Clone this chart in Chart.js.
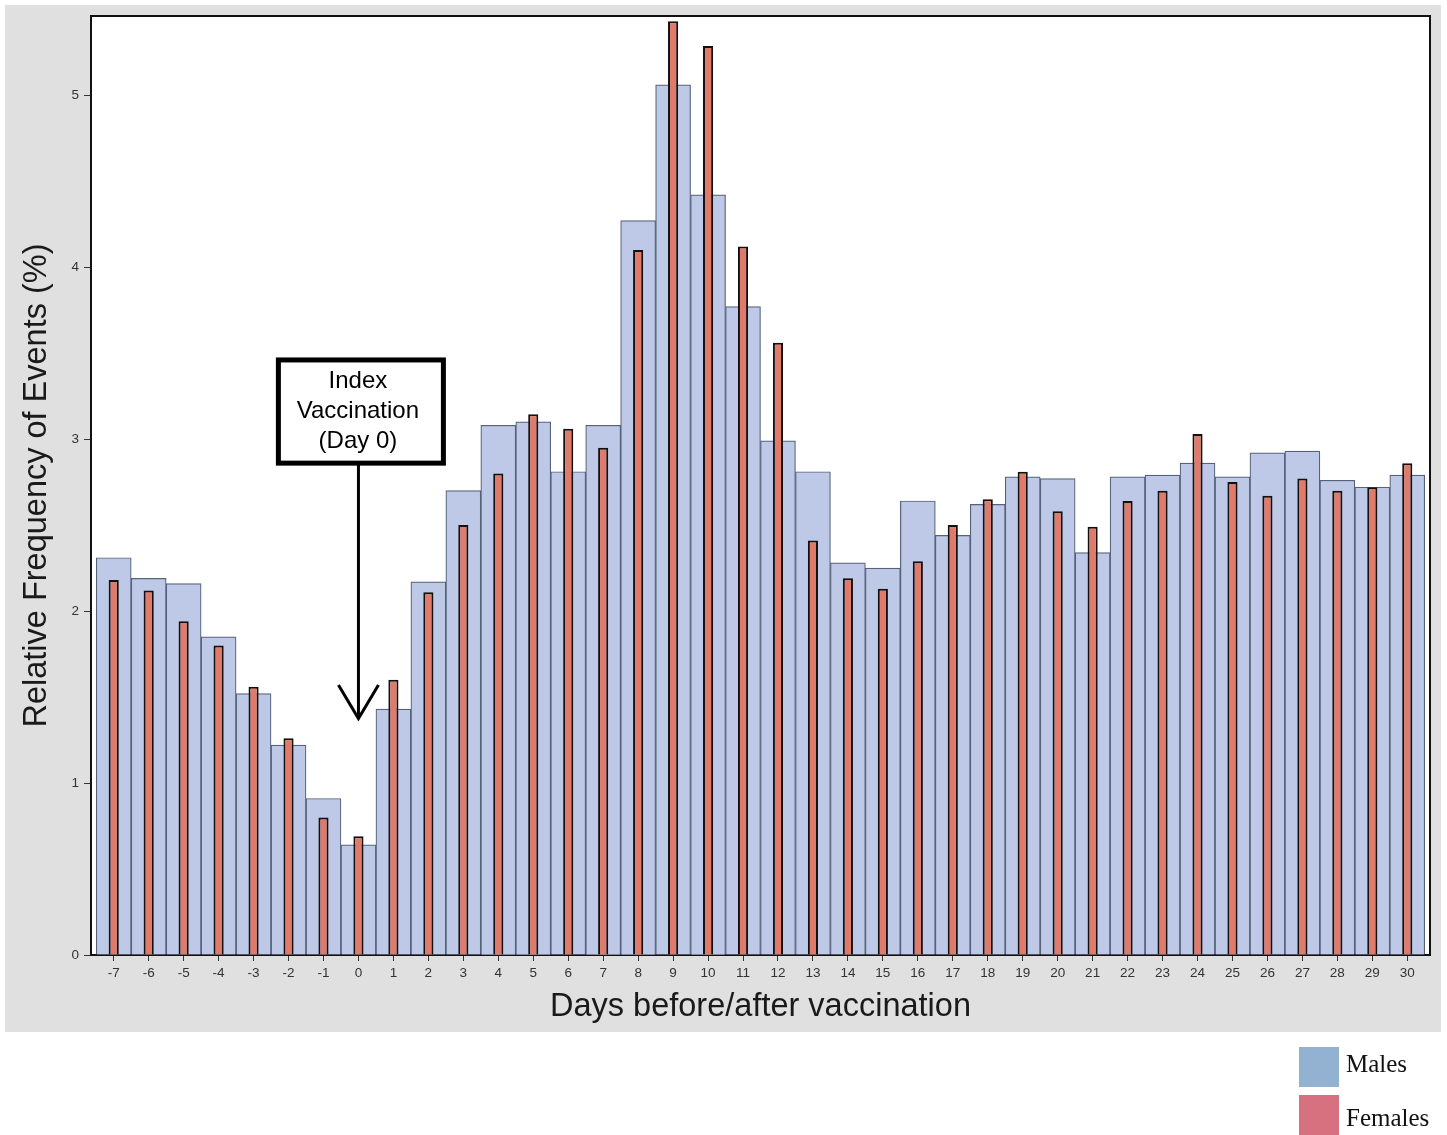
<!DOCTYPE html>
<html>
<head>
<meta charset="utf-8">
<script src="https://cdn.jsdelivr.net/npm/chart.js@4/dist/chart.umd.min.js"></script>
<style>
  html, body { margin: 0; padding: 0; background: #ffffff; }
  #wrap { position: relative; width: 1447px; height: 1135px; }
  #c { position: absolute; left: 0; top: 0; }
  .leg { position: absolute; font-family: "Liberation Serif", "Times New Roman", serif; font-size: 25px; color: #111; }
  .sw { position: absolute; width: 40px; height: 40px; }
</style>
</head>
<body>
<div id="wrap">
  <canvas id="c" width="1447" height="1135"></canvas>
  <div class="sw" style="left:1299px; top:1047px; background:#93b2d2;"></div>
  <div class="leg" style="left:1346px; top:1050px;">Males</div>
  <div class="sw" style="left:1299px; top:1095px; background:#d7707f;"></div>
  <div class="leg" style="left:1346px; top:1104px;">Females</div>
</div>
<script>
// ---- data ----
const days = [-7,-6,-5,-4,-3,-2,-1,0,1,2,3,4,5,6,7,8,9,10,11,12,13,14,15,16,17,18,19,20,21,22,23,24,25,26,27,28,29,30];
const males = [2.31,2.19,2.16,1.85,1.52,1.22,0.91,0.64,1.43,2.17,2.70,3.08,3.10,2.81,3.08,4.27,5.06,4.42,3.77,2.99,2.81,2.28,2.25,2.64,2.44,2.62,2.78,2.77,2.34,2.78,2.79,2.86,2.78,2.92,2.93,2.76,2.72,2.79];
const females = [2.18,2.12,1.94,1.80,1.56,1.26,0.80,0.69,1.60,2.11,2.50,2.80,3.145,3.06,2.95,4.10,5.43,5.285,4.12,3.56,2.41,2.19,2.13,2.29,2.50,2.65,2.81,2.58,2.49,2.64,2.70,3.03,2.75,2.67,2.77,2.70,2.72,2.86];
const yTicks = [0,1,2,3,4,5];
const xTitle = 'Days before/after vaccination';
const yTitle = 'Relative Frequency of Events (%)';
const noteLines = ['Index', 'Vaccination', '(Day 0)'];

const maleData = days.map((d, i) => ({x: d, y: males[i]}));
const femaleData = days.map((d, i) => ({x: d, y: females[i]}));

const bgPlugin = {
  id: 'bg',
  beforeDraw(chart) {
    const ctx = chart.ctx, a = chart.chartArea;
    ctx.save();
    ctx.fillStyle = '#e0e0e0';
    ctx.fillRect(5, 5, 1436, 1027);
    ctx.fillStyle = '#ffffff';
    ctx.fillRect(a.left, a.top, a.right - a.left, a.bottom - a.top);
    ctx.restore();
  },
  afterDraw(chart) {
    const ctx = chart.ctx, a = chart.chartArea;
    ctx.save();
    ctx.strokeStyle = '#111';
    ctx.lineWidth = 2;
    ctx.beginPath();
    ctx.moveTo(a.left - 1, a.top);
    ctx.lineTo(a.right, a.top);
    ctx.lineTo(a.right, a.bottom);
    ctx.stroke();
    ctx.restore();
  }
};

const notePlugin = {
  id: 'note',
  afterDatasetsDraw(chart) {
    const ctx = chart.ctx;
    const xs = chart.scales.x, ys = chart.scales.y;
    const cx = xs.getPixelForValue(0);
    const bl = xs.getPixelForValue(-2.29), br = xs.getPixelForValue(2.43);
    const bt = ys.getPixelForValue(3.46), bb = ys.getPixelForValue(2.86);
    const tip = ys.getPixelForValue(1.375);
    const headY = ys.getPixelForValue(1.57);
    ctx.save();
    // arrow
    ctx.strokeStyle = '#000';
    ctx.lineWidth = 3;
    ctx.beginPath();
    ctx.moveTo(cx, bb);
    ctx.lineTo(cx, tip);
    ctx.stroke();
    ctx.beginPath();
    ctx.moveTo(cx - 20, headY);
    ctx.lineTo(cx, tip);
    ctx.lineTo(cx + 20, headY);
    ctx.stroke();
    // box
    ctx.fillStyle = '#fff';
    ctx.fillRect(bl, bt, br - bl, bb - bt);
    ctx.lineWidth = 5;
    ctx.strokeRect(bl, bt, br - bl, bb - bt);
    ctx.fillStyle = '#000';
    ctx.font = '24px "Liberation Sans", Arial, sans-serif';
    ctx.textAlign = 'center';
    ctx.textBaseline = 'middle';
    const mid = (bl + br) / 2 - 3;
    noteLines.forEach((t, i) => ctx.fillText(t, mid, bt + 21 + i * 30));
    ctx.restore();
  }
};

new Chart(document.getElementById('c'), {
  type: 'bar',
  data: {
    datasets: [
      {
        label: 'Females',
        data: femaleData,
        backgroundColor: '#e07b6b',
        borderColor: '#111',
        borderWidth: 2,
        grouped: false,
        categoryPercentage: 1,
        barPercentage: 0.29,
        order: 0
      },
      {
        label: 'Males',
        data: maleData,
        backgroundColor: '#bdc9e6',
        borderColor: '#56627a',
        borderWidth: 1.2,
        grouped: false,
        categoryPercentage: 1,
        barPercentage: 1,
        order: 1
      }
    ]
  },
  options: {
    responsive: false,
    animation: false,
    devicePixelRatio: 1,
    layout: { padding: { left: 5, top: 16, right: 17, bottom: 103 } },
    plugins: { legend: { display: false }, tooltip: { enabled: false } },
    scales: {
      x: {
        type: 'linear',
        offset: false,
        min: days[0] - 0.65,
        max: days[days.length - 1] + 0.65,
        afterBuildTicks: s => { s.ticks = days.map(v => ({ value: v })); },
        afterFit: s => { s.height = 77; },
        ticks: {
          autoSkip: false, maxRotation: 0, minRotation: 0, padding: 4,
          color: '#333',
          font: { family: '"Liberation Sans", Arial, sans-serif', size: 13.5 },
          callback: v => String(v)
        },
        grid: { display: true, offset: false, drawOnChartArea: false, drawTicks: true, tickLength: 6, color: '#333' },
        border: { display: true, color: '#111', width: 2 },
        title: {
          display: true, text: xTitle, color: '#1a1a1a',
          font: { family: '"Liberation Sans", Arial, sans-serif', size: 32.5 },
          padding: { top: 0, bottom: 5 }
        }
      },
      y: {
        min: 0,
        max: 5.46,
        afterBuildTicks: s => { s.ticks = yTicks.map(v => ({ value: v })); },
        afterFit: s => { s.width = 86; },
        ticks: {
          padding: 5, color: '#333',
          font: { family: '"Liberation Sans", Arial, sans-serif', size: 13.5 }
        },
        grid: { display: true, drawOnChartArea: false, drawTicks: true, tickLength: 7, color: '#333' },
        border: { display: true, color: '#111', width: 2 },
        title: {
          display: true, text: yTitle, color: '#1a1a1a',
          font: { family: '"Liberation Sans", Arial, sans-serif', size: 32.5 },
          padding: { top: 13, bottom: 0 }
        }
      }
    }
  },
  plugins: [bgPlugin, notePlugin]
});
</script>
</body>
</html>
